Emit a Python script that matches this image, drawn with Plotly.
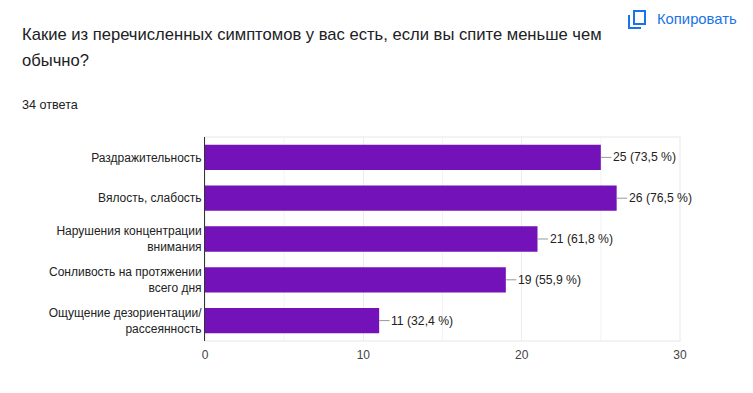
import plotly.graph_objects as go

categories = ["Раздражительность", "Вялость, слабость", "Нарушения концентрации<br>внимания",
              "Сонливость на протяжении<br>всего дня", "Ощущение дезориентации/<br>рассеянность"]
values = [25, 26, 21, 19, 11]
percents = ["73,5", "76,5", "61,8", "55,9", "32,4"]
x_ticks = [0, 10, 20, 30]
minor_ticks = [5, 15, 25]
title_line_1 = "Какие из перечисленных симптомов у вас есть, если вы спите меньше чем"
title_line_2 = "обычно?"
count_text = "34 ответа"
copy_text = "Копировать"

W, H = 753, 393
L, R, T, B = 205, 680, 137, 341
FONT = "Liberation Sans, Arial, sans-serif"
PURPLE = "#7312b8"

fig = go.Figure(go.Bar(y=categories, x=values, orientation="h", marker_color=PURPLE,
                       marker_line_width=0, width=0.62, showlegend=False))

shapes = []
annotations = []
# leader lines and value labels
for c, v, p in zip(categories, values, percents):
    annotations.append(dict(x=v, y=c, xref="x", yref="y", text="", showarrow=True, arrowhead=0,
                            arrowwidth=1, arrowcolor="#999999", ax=12, ay=0, axref="pixel", ayref="pixel",
                            standoff=0, startstandoff=0))
    annotations.append(dict(x=v, y=c, xref="x", yref="y", xanchor="left", xshift=10, yshift=0,
                            text=f"{v} ({p} %)", showarrow=False,
                            font=dict(family=FONT, size=12.2, color="#222222")))
# faint minor gridlines
for m in minor_ticks:
    shapes.append(dict(type="line", xref="x", yref="paper", x0=m, x1=m, y0=0, y1=1, layer="below",
                       line=dict(color="#f3f3f3", width=1)))
# plot frame
shapes.append(dict(type="rect", xref="paper", yref="paper", x0=0, x1=1, y0=0, y1=1, layer="below",
                   line=dict(color="#f0f0f0", width=1.5)))


def ix(x):
    return (x - L) / (R - L)


def iy(y):
    return (B - y) / (B - T)


def page_text(x, y, text, size, color, anchor="left"):
    annotations.append(dict(xref="paper", yref="paper", x=ix(x), y=iy(y),
                            text=text, showarrow=False, xanchor=anchor, yanchor="middle", align="left",
                            font=dict(family=FONT, size=size, color=color)))


page_text(20, 34, title_line_1, 16.6, "#202124")
page_text(20, 60, title_line_2, 16.6, "#202124")
page_text(20, 105, count_text, 12.6, "#202124")
page_text(655, 19, copy_text, 14.8, "#1a73e8")

shapes.append(dict(type="rect", xref="paper", yref="paper", x0=ix(634), x1=ix(645), y0=iy(11), y1=iy(24),
                   line=dict(color="#1a73e8", width=2)))
shapes.append(dict(type="path", xref="paper", yref="paper",
                   path=f"M {ix(629)} {iy(15)} L {ix(629)} {iy(28)} L {ix(641)} {iy(28)}",
                   line=dict(color="#1a73e8", width=2)))

fig.update_layout(
    width=W, height=H, autosize=False,
    margin=dict(l=L, r=W - R, t=T, b=H - B, pad=0),
    paper_bgcolor="white", plot_bgcolor="white",
    font=dict(family=FONT, size=12, color="#222222"),
    shapes=shapes, annotations=annotations,
    xaxis=dict(range=[0, 30], tickmode="array", tickvals=x_ticks, ticktext=[str(t) for t in x_ticks],
               showgrid=True, gridcolor="#ececec", gridwidth=1, zeroline=False, showline=False,
               ticks="", ticklabelstandoff=5, tickfont=dict(family=FONT, size=12, color="#444444")),
    yaxis=dict(autorange="reversed", showgrid=False, zeroline=False, showline=True, linecolor="#333333",
               linewidth=1, ticks="", ticklen=0, tickfont=dict(family=FONT, size=12, color="#222222")),
    hovermode=False,
)

fig.write_html("out.html", config=dict(displayModeBar=False),
               post_script="document.body.style.margin='0';")
